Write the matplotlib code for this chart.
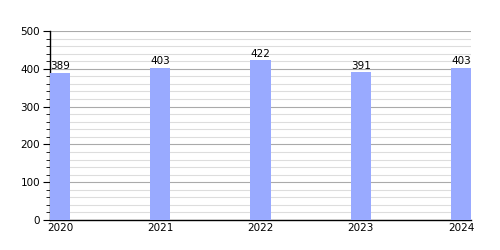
import matplotlib
matplotlib.use("Agg")
import matplotlib.pyplot as plt
from matplotlib.ticker import MultipleLocator

years = ["2020", "2021", "2022", "2023", "2024"]
values = [389, 403, 422, 391, 403]

fig = plt.figure(figsize=(5, 2.5), dpi=100)
ax = fig.add_axes([0.1, 0.12, 0.842, 0.756])

x = list(range(len(years)))
ax.bar(x, values, width=0.2, color="#99aaff", zorder=3)
for xi, v in zip(x, values):
    ax.text(xi, v + 4, str(v), ha="center", va="bottom", fontsize=7.5, zorder=4)

ax.set_xlim(-0.1, len(years) - 0.9)
ax.set_ylim(0, 500)
ax.yaxis.set_major_locator(MultipleLocator(100))
ax.yaxis.set_minor_locator(MultipleLocator(20))
ax.grid(which="major", axis="y", color="#aaaaaa", linewidth=0.8, zorder=1)
ax.grid(which="minor", axis="y", color="#dddddd", linewidth=0.8, zorder=1)

ax.set_xticks(x)
ax.set_xticklabels(years)
ax.tick_params(axis="x", length=0, labelsize=7.5, pad=2)
ax.tick_params(axis="y", which="major", length=5, labelsize=7.5, pad=2)
ax.tick_params(axis="y", which="minor", length=3)

for s in ["top", "right"]:
    ax.spines[s].set_visible(False)
ax.spines["left"].set_linewidth(1)
ax.spines["bottom"].set_linewidth(1)

fig.savefig("out.png", dpi=100)
